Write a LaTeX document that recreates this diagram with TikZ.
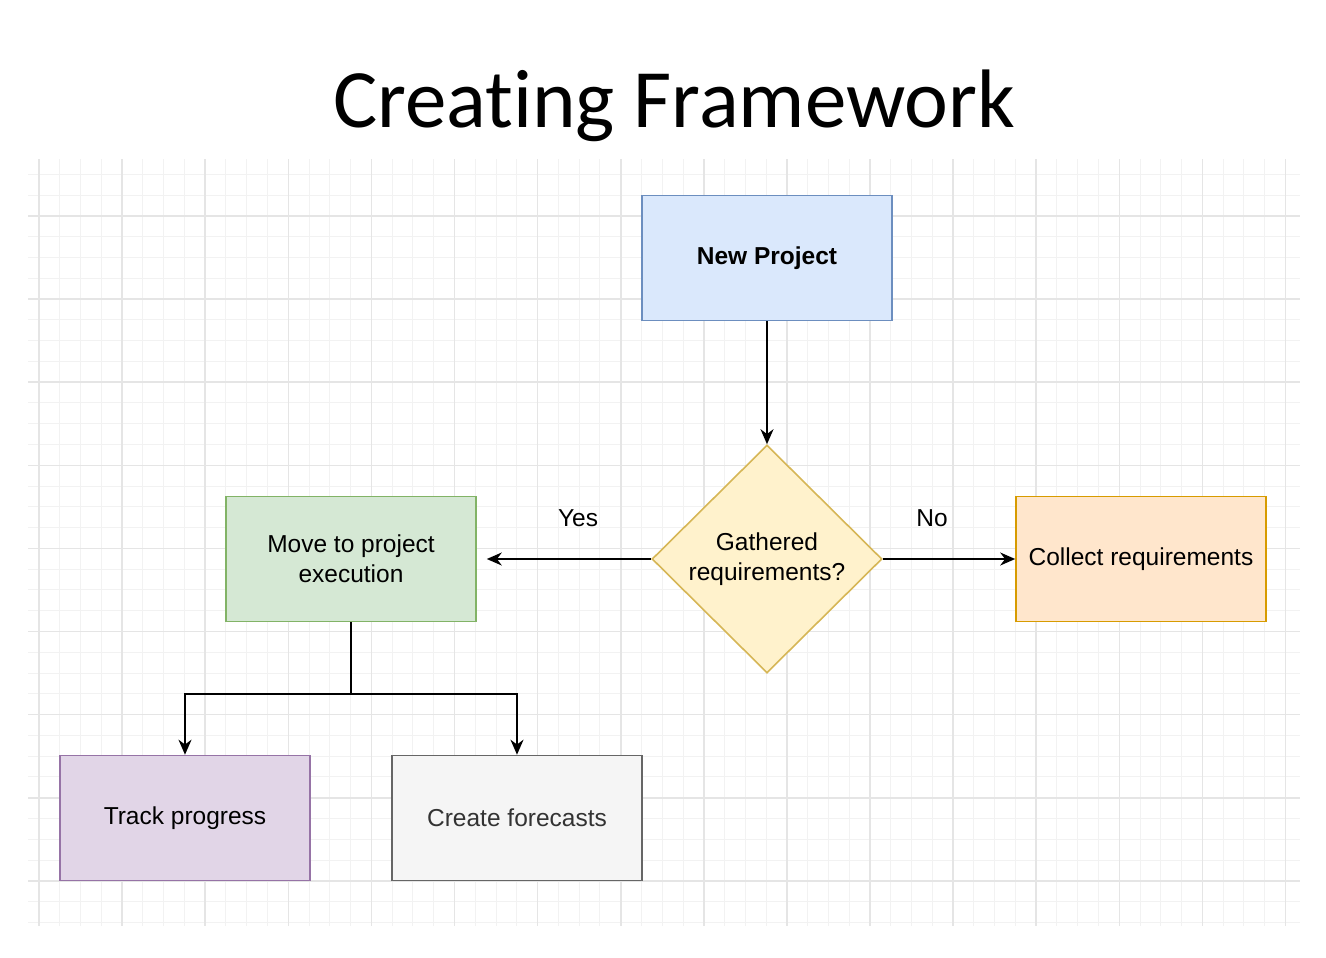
\documentclass[tikz,border=0pt]{standalone}
\usepackage{fontspec}
\setmainfont{Liberation Sans}
\newfontfamily\titlefont[RawFeature={-liga,-calt,-dlig}]{Carlito}
\usetikzlibrary{shapes.geometric,arrows.meta}
\definecolor{blueFill}{HTML}{DAE8FC}\definecolor{blueLine}{HTML}{6C8EBF}
\definecolor{yellowFill}{HTML}{FFF2CC}\definecolor{yellowLine}{HTML}{D6B656}
\definecolor{greenFill}{HTML}{D5E8D4}\definecolor{greenLine}{HTML}{82B366}
\definecolor{orangeFill}{HTML}{FFE6CC}\definecolor{orangeLine}{HTML}{D79B00}
\definecolor{purpleFill}{HTML}{E1D5E7}\definecolor{purpleLine}{HTML}{9673A6}
\definecolor{grayFill}{HTML}{F5F5F5}\definecolor{grayLine}{HTML}{666666}
\definecolor{grayText}{HTML}{333333}
\begin{document}
\begin{tikzpicture}
[x=1pt,y=-1pt,
  minorgrid/.style={draw=black!5,line width=1pt},%
  majorgrid/.style={draw=black!10,line width=1.6pt},%
  boxdecorate/.style={shape=rectangle,minimum width=250pt,minimum height=125pt,
    inner sep=0pt,line width=1.6pt,align=center,
    font=\fontsize{24.5}{30}\selectfont},%
  decisiondecorate/.style={shape=diamond,minimum width=230pt,minimum height=228pt,
    inner sep=0pt,line width=1.6pt,align=center,fill=yellowFill,draw=yellowLine,
    font=\fontsize{24.5}{30}\selectfont},%
  labeldecorate/.style={font=\fontsize{24.5}{30}\selectfont},%
  linedecorate/.style={line width=2pt,-{Stealth[length=15pt,width=13pt]}}]
\useasboundingbox (0,0) rectangle (1326,958);
%% background grid
\foreach \i in {0,...,60} {
  \draw[minorgrid] ({39+20.775*\i},159) -- ({39+20.775*\i},926);
}
\foreach \j in {0,...,36} {
  \draw[minorgrid] (28,{174.45+20.775*\j}) -- (1300,{174.45+20.775*\j});
}
\foreach \i in {0,...,15} {
  \draw[majorgrid] ({39+83.1*\i},159) -- ({39+83.1*\i},926);
}
\foreach \j in {0,...,8} {
  \draw[majorgrid] (28,{216+83.1*\j}) -- (1300,{216+83.1*\j});
}
%% title
\node (title) at (674,128) [anchor=base,font=\titlefont\fontsize{83}{90}\selectfont]
  {Creating Framework};
%% nodes
\node (newproject) at (767,258) [boxdecorate,fill=blueFill,draw=blueLine,
  font=\fontsize{24.5}{30}\selectfont\bfseries] {New Project};
\node (gathered) at (767,559) [decisiondecorate] {Gathered\\requirements?};
\node (move) at (351,559) [boxdecorate,fill=greenFill,draw=greenLine]
  {Move to project\\execution};
\node (collect) at (1141,559) [boxdecorate,fill=orangeFill,draw=orangeLine]
  {Collect requirements};
\node (track) at (185,818) [boxdecorate,fill=purpleFill,draw=purpleLine]
  {Track progress};
\node (create) at (517,818) [boxdecorate,fill=grayFill,draw=grayLine,
  text=grayText] {Create forecasts};
\node (yes) at (578,518) [labeldecorate] {Yes};
\node (no) at (932,518) [labeldecorate] {No};
\coordinate (split) at (351,694);
%% edges
\draw[linedecorate] (newproject) -- (gathered);
\draw[linedecorate,shorten >=10pt] (gathered) -- (move);
\draw[linedecorate] (gathered) -- (collect);
\draw[line width=2pt] (move) -- (split);
\draw[linedecorate] (split) -| (track);
\draw[linedecorate] (split) -| (create);
\end{tikzpicture}
\end{document}
